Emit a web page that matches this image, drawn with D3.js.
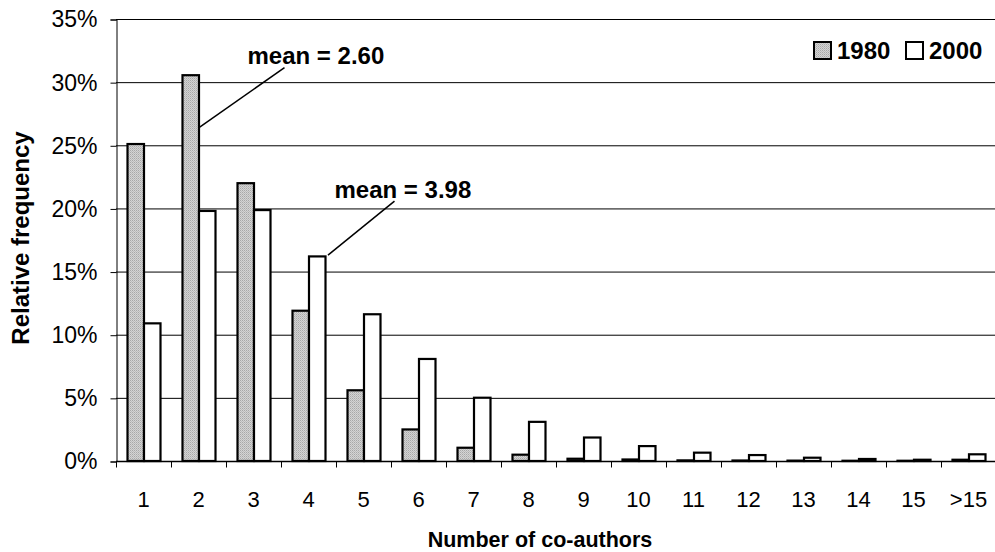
<!DOCTYPE html>
<html><head><meta charset="utf-8">
<script src="https://cdn.jsdelivr.net/npm/d3@7"></script>
<style>body{margin:0;background:#fff}svg{display:block}text{font-family:"Liberation Sans",Arial,sans-serif}</style>
</head><body>
<svg id="c" width="995" height="552"></svg>
<script>
const categories = ["1","2","3","4","5","6","7","8","9","10","11","12","13","14","15",">15"];
const series = ["1980","2000"];
const values1980 = [25.1,30.55,22.0,11.9,5.6,2.5,1.05,0.5,0.18,0.12,0.05,0.04,0.03,0.02,0.02,0.1];
const values2000 = [10.9,19.8,19.87,16.2,11.62,8.08,5.01,3.1,1.86,1.18,0.66,0.47,0.26,0.16,0.1,0.53];
const yTicks = [0,5,10,15,20,25,30,35];
const annotations = [
  {label:"mean = 2.60", cat:"2", series:"1980", value:26.4},
  {label:"mean = 3.98", cat:"4", series:"2000", value:16.3}
];

const FONT = "'Liberation Sans', Arial, Helvetica, sans-serif";
const svg = d3.select("#c");
const L = 116, R = 996, T = 19, B = 461;
const x = d3.scaleBand().domain(categories).range([L, R]).paddingInner(0).paddingOuter(0);
const x1 = d3.scaleBand().domain(series).range([11.5, 44.5]);
const y = d3.scaleLinear().domain([0, 35]).range([B, T]);

const defs = svg.append("defs");
const pat = defs.append("pattern").attr("id","hatch").attr("patternUnits","userSpaceOnUse")
  .attr("width",2).attr("height",2);
pat.append("rect").attr("width",2).attr("height",2).attr("fill","#d4d4d4");
pat.append("rect").attr("width",1).attr("height",1).attr("fill","#a8a8a8");
pat.append("rect").attr("x",1).attr("y",1).attr("width",1).attr("height",1).attr("fill","#bcbcbc");

// gridlines
svg.append("g").selectAll("line").data(yTicks.filter(d=>d>0)).join("line")
  .attr("x1",L).attr("x2",R).attr("y1",d=>y(d)+0.5).attr("y2",d=>y(d)+0.5)
  .attr("stroke","#000").attr("stroke-width",1);

// y axis
const yAxis = d3.axisLeft(y).tickValues(yTicks).tickFormat(d=>d+"%").tickSize(6).tickPadding(13);
const gy = svg.append("g").attr("transform",`translate(${L+0.5},0.5)`).call(yAxis);
gy.attr("font-family",FONT);
gy.selectAll("text").attr("font-size",23).attr("fill","#000").attr("font-family",FONT);
gy.select(".domain").attr("stroke","#000");

// bars
const colors = {"1980":"url(#hatch)","2000":"#fff"};
const data = categories.flatMap((c,i)=>[
  {c, s:"1980", v:values1980[i]},
  {c, s:"2000", v:values2000[i]}
]);
svg.append("g").selectAll("rect").data(data).join("rect")
  .attr("x",d=>x(d.c)+x1(d.s))
  .attr("y",d=>y(d.v))
  .attr("width",x1.bandwidth())
  .attr("height",d=>B-y(d.v))
  .attr("fill",d=>colors[d.s])
  .attr("stroke","#000").attr("stroke-width",2.2);

// x axis
const gx = svg.append("g").attr("transform",`translate(0,${B+0.5})`);
gx.append("line").attr("x1",L).attr("x2",R).attr("stroke","#000").attr("stroke-width",1.5);
gx.selectAll(".tk").data(categories.concat(["end"])).join("line")
  .attr("x1",(d,i)=>L+i*x.bandwidth()+0.5).attr("x2",(d,i)=>L+i*x.bandwidth()+0.5)
  .attr("y1",0).attr("y2",6).attr("stroke","#000");
gx.selectAll("text").data(categories).join("text")
  .attr("x",d=>x(d)+x.bandwidth()/2).attr("y",45)
  .attr("text-anchor","middle").attr("font-size",22).attr("font-family",FONT).attr("fill","#000").text(d=>d);

// axis titles
svg.append("text").attr("x",540).attr("y",547).attr("text-anchor","middle").attr("font-family",FONT)
  .attr("font-size",21.5).attr("font-weight","bold").text("Number of co-authors");
svg.append("text").attr("transform","translate(29,238) rotate(-90)").attr("text-anchor","middle").attr("font-family",FONT)
  .attr("font-size",24).attr("font-weight","bold").text("Relative frequency");

// annotations
const offs = [{dx:85.5, dy:60, tx:-37, ty:-4},{dx:66.5, dy:54, tx:-60, ty:-3}];
annotations.forEach((a,i)=>{
  const bx = x(a.cat)+x1(a.series)+x1.bandwidth() + (i===1?2.5:0);
  const by = y(a.value);
  const ex = bx + offs[i].dx, ey = by - offs[i].dy;
  svg.append("line").attr("x1",bx).attr("y1",by).attr("x2",ex).attr("y2",ey)
    .attr("stroke","#000").attr("stroke-width",1.5);
  svg.append("text").attr("x",ex + offs[i].tx).attr("y",ey + offs[i].ty).attr("font-family",FONT)
    .attr("font-size",24).attr("font-weight","bold").text(a.label);
});

// legend
const leg = svg.append("g");
const legX = [814, 906];
series.forEach((s,i)=>{
  leg.append("rect").attr("x",legX[i]).attr("y",42).attr("width",17).attr("height",17)
    .attr("fill",colors[s]).attr("stroke","#000").attr("stroke-width",2);
  leg.append("text").attr("x",legX[i]+23).attr("y",59).attr("font-size",24).attr("font-family",FONT)
    .attr("font-weight","bold").text(s);
});
</script>
</body></html>
